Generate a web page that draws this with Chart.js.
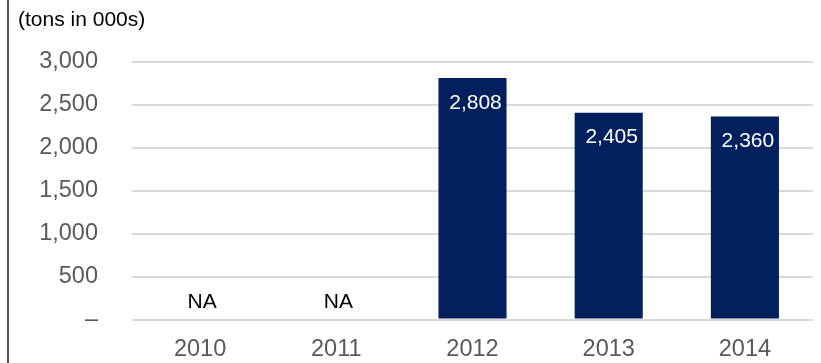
<!DOCTYPE html>
<html>
<head>
<meta charset="utf-8">
<script src="https://cdn.jsdelivr.net/npm/chart.js@4"></script>
<style>
    html, body { margin: 0; padding: 0; background: #ffffff; }
    #wrap { width: 821px; height: 363px; position: relative; }
</style>
</head>
<body>
<div id="wrap"><canvas id="volumeChart"></canvas></div>
<script>
// ----- データ -----
const years = ['2010', '2011', '2012', '2013', '2014'];
const volumes = [null, null, 2808, 2405, 2360];   // 単位: 千トン (null = NA)
const yTicks = [0, 500, 1000, 1500, 2000, 2500, 3000];

const fontFamily = 'Arial, "Liberation Sans", sans-serif';
const barColor = '#03205e';

function formatNumber(v) {
    return v.toLocaleString('en-US');
}

// 左の縦線とタイトル
const frameAndTitle = {
    id: 'frameAndTitle',
    beforeDraw(chart) {
        const ctx = chart.ctx;
        ctx.save();
        ctx.fillStyle = '#ffffff';
        ctx.fillRect(0, 0, chart.width, chart.height);
        ctx.strokeStyle = '#555555';
        ctx.lineWidth = 2;
        ctx.beginPath();
        ctx.moveTo(8, 0);
        ctx.lineTo(8, chart.height);
        ctx.stroke();
        ctx.fillStyle = '#000000';
        ctx.font = '21px ' + fontFamily;
        ctx.textAlign = 'left';
        ctx.textBaseline = 'middle';
        ctx.fillText('(tons in 000s)', 18, 20);
        ctx.restore();
    }
};

// 棒の中の数値ラベルと NA 表示
const barLabels = {
    id: 'barLabels',
    afterDatasetsDraw(chart) {
        const ctx = chart.ctx;
        const meta = chart.getDatasetMeta(0);
        const yScale = chart.scales.y;
        ctx.save();
        ctx.font = '21px ' + fontFamily;
        ctx.textAlign = 'center';
        ctx.textBaseline = 'middle';
        volumes.forEach((v, i) => {
            const x = chart.scales.x.getPixelForValue(i);
            if (v === null) {
                ctx.fillStyle = '#000000';
                ctx.fillText('NA', x + 2, yScale.getPixelForValue(0) - 17);
            } else {
                ctx.fillStyle = '#ffffff';
                ctx.fillText(formatNumber(v), meta.data[i].x + 3, yScale.getPixelForValue(v) + 25);
            }
        });
        ctx.restore();
    }
};

new Chart(document.getElementById('volumeChart'), {
    type: 'bar',
    data: {
        labels: years,
        datasets: [{
            data: volumes,
            backgroundColor: barColor,
            borderWidth: 0,
            barPercentage: 0.5,
            categoryPercentage: 1.0
        }]
    },
    options: {
        responsive: true,
        maintainAspectRatio: false,
        animation: false,
        layout: {
            padding: { left: 10, right: 8, top: 61.5, bottom: 0 }
        },
        plugins: {
            legend: { display: false },
            tooltip: { enabled: false }
        },
        scales: {
            x: {
                grid: { display: false, drawTicks: false },
                border: { display: false },
                ticks: {
                    color: '#595959',
                    font: { family: fontFamily, size: 23.5 },
                    padding: 16
                },
                afterFit(scale) {
                    scale.height = 43.5;
                }
            },
            y: {
                min: 0,
                max: 3000,
                afterBuildTicks(scale) {
                    scale.ticks = yTicks.map(v => ({ value: v }));
                },
                // 目盛り線は透明にして、ラベルとの間隔だけに使う
                grid: { color: '#d9d9d9', lineWidth: 2, drawTicks: true, tickLength: 34, tickColor: 'rgba(0,0,0,0)' },
                border: { display: false },
                ticks: {
                    color: '#595959',
                    font: { family: fontFamily, size: 23.5 },
                    padding: 0,
                    callback: v => (v === 0 ? '–' : formatNumber(v))
                },
                afterFit(scale) {
                    scale.width = 122;
                }
            }
        }
    },
    plugins: [frameAndTitle, barLabels]
});
</script>
</body>
</html>
